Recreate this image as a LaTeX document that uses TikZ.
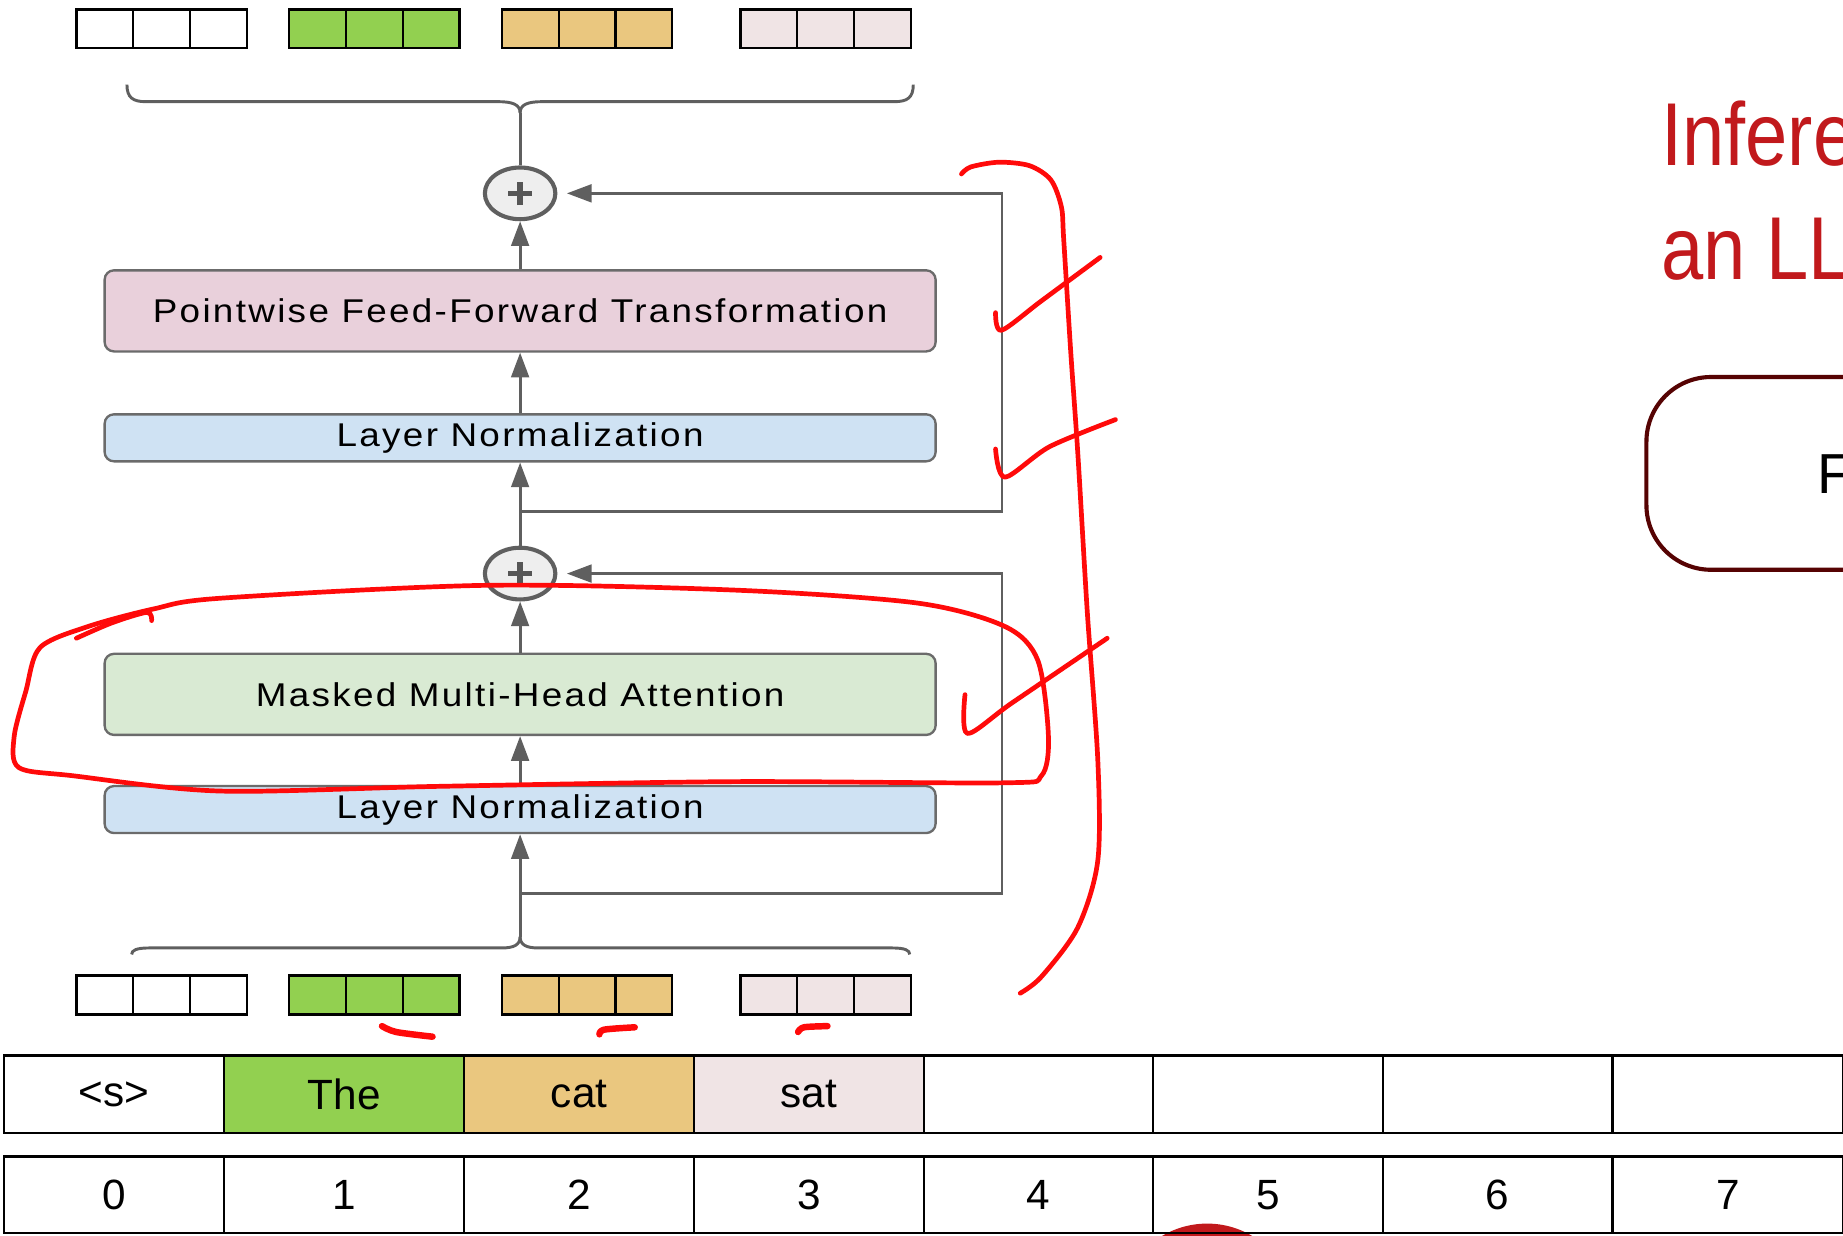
\documentclass[tikz,border=0pt]{standalone}
\usepackage{fontspec}
\setmainfont{Liberation Sans}
\newfontfamily\boxfont{Liberation Sans}[LetterSpace=7, FakeStretch=1.12]
\newfontfamily\titlefont{Liberation Sans}[FakeStretch=0.85]
\usepackage{tikz}
\usetikzlibrary{arrows.meta, positioning, shapes.geometric}
\definecolor{wiregray}{HTML}{5F5F5F}
\definecolor{edgegray}{HTML}{6B6B6B}
\definecolor{ffpink}{HTML}{E9D0DB}
\definecolor{lnblue}{HTML}{CFE2F3}
\definecolor{attngreen}{HTML}{D9EAD3}
\definecolor{addfill}{HTML}{EEEEEE}
\definecolor{tokgreen}{HTML}{92D050}
\definecolor{tokorange}{HTML}{EAC77F}
\definecolor{tokpink}{HTML}{F0E4E5}
\definecolor{scribred}{HTML}{FF0A0A}
\definecolor{titlered}{HTML}{C1191C}
\definecolor{framemaroon}{HTML}{560303}

\begin{document}
\begin{tikzpicture}[
    x=1pt,
    y=-1pt,
    layerbox/.style={
        draw=edgegray,
        line width=2pt,
        rounded corners=8pt,
        minimum width=707pt,
        inner sep=0pt,
        font=\boxfont\fontsize{28}{30}\selectfont
    },
    normbox/.style={
        layerbox,
        fill=lnblue,
        minimum height=40pt
    },
    ffbox/.style={
        layerbox,
        fill=ffpink,
        minimum height=69pt
    },
    attnbox/.style={
        layerbox,
        fill=attngreen,
        minimum height=69pt
    },
    addop/.style={
        ellipse,
        draw=wiregray,
        fill=addfill,
        line width=3.5pt,
        minimum width=60pt,
        minimum height=44pt,
        inner sep=0pt
    },
    plus/.style={
        draw=wiregray!90!black,
        line width=4.5pt
    },
    arr/.style={
        -{Triangle[length=21pt,width=15pt]},
        draw=wiregray,
        line width=2.5pt
    },
    link/.style={
        draw=wiregray,
        line width=2.5pt
    },
    vcell/.style={
        draw=black,
        line width=2pt,
        minimum width=48.33pt,
        minimum height=33pt,
        inner sep=0pt
    },
    tokcell/.style={
        draw=black,
        line width=2pt,
        minimum height=66pt,
        inner sep=0pt,
        font=\fontsize{36}{40}\selectfont
    },
    titletext/.style={
        text=titlered,
        inner sep=0pt,
        font=\titlefont\fontsize{76}{90}\selectfont
    },
    stagebox/.style={
        draw=framemaroon,
        line width=3.5pt,
        rounded corners=55pt,
        minimum width=420pt,
        minimum height=164pt
    },
    scribble/.style={
        draw=scribred,
        line width=4pt,
        line cap=round,
        line join=round
    }
]

\useasboundingbox (0,0) rectangle (1568,1051);
\clip (0,0) rectangle (1568,1051);

% -----------------------------------------------------
% Decoder block
% -----------------------------------------------------

\node[addop] (add1) at (442.5,164.5) {};
\node[ffbox] (ff) at (442.5,264.5) {Pointwise Feed-Forward Transformation};
\node[normbox] (ln1) at (442.5,372.5) {Layer Normalization};
\node[addop] (add2) at (442.5,488) {};
\node[attnbox] (attn) at (442.5,590.75) {Masked Multi-Head Attention};
\node[normbox] (ln2) at (442.5,688.75) {Layer Normalization};

\foreach \a in {add1, add2} {
    \draw[plus] ([xshift=-10pt]\a.center) -- ([xshift=10pt]\a.center);
    \draw[plus] ([yshift=-10pt]\a.center) -- ([yshift=10pt]\a.center);
}

\coordinate (topcusp) at (442.5,96);
\coordinate (botcusp) at (442.5,797);
\coordinate (res1) at (442.5,434.8);
\coordinate (res2) at (442.5,760.5);
\coordinate (skip1) at (852.5,164.5);
\coordinate (skip2) at (852.5,488);

\draw[arr] (botcusp) -- (ln2);
\draw[arr] (ln2) -- (attn);
\draw[arr] (attn) -- (add2);
\draw[arr] (add2) -- (ln1);
\draw[arr] (ln1) -- (ff);
\draw[arr] (ff) -- (add1);
\draw[link] (add1) -- (topcusp);

% Residual connections
\draw[arr] (res1) -| (skip1) -- ([xshift=8pt]add1.east);
\draw[arr] (res2) -| (skip2) -- ([xshift=8pt]add2.east);

% Braces
\draw[link] (108,72) .. controls (108,83) and (113,86.5) .. (124,86.5)
    -- (424,86.5) .. controls (436,86.5) and (442.5,89) .. (topcusp);
\draw[link] (777,72) .. controls (777,83) and (772,86.5) .. (761,86.5)
    -- (461,86.5) .. controls (449,86.5) and (442.5,89) .. (topcusp);
\draw[link] (112,812) .. controls (112,808.5) and (116,806.5) .. (127,806.5)
    -- (427,806.5) .. controls (437,806.5) and (442.5,804) .. (botcusp);
\draw[link] (774,812) .. controls (774,808.5) and (770,806.5) .. (759,806.5)
    -- (458,806.5) .. controls (448,806.5) and (442.5,804) .. (botcusp);

% -----------------------------------------------------
% Embedding vectors
% -----------------------------------------------------

\foreach \gx/\vcol [count=\g] in {137.5/white, 318.5/tokgreen, 499.5/tokorange, 702.5/tokpink} {
    \foreach \c in {1,2,3} {
        \node[vcell, fill=\vcol] (top-\g-\c) at ({\gx+(\c-2)*48.33},24.5) {};
        \node[vcell, fill=\vcol] (bot-\g-\c) at ({\gx+(\c-2)*48.33},846.5) {};
    }
}

% -----------------------------------------------------
% Tokens and positions
% -----------------------------------------------------

\fill[titlered] (1027,1116) circle (75);

\foreach \l/\r/\tcol/\tok [count=\k from 0] in {3.5/190.5/white/{<s>}, 190.5/395/tokgreen/The, 395/590.5/tokorange/cat, 590.5/786/tokpink/sat, 786/981/white/{}, 981/1176.5/white/{}, 1176.5/1372/white/{}, 1372/1568/white/{}} {
    \pgfmathsetmacro{\w}{\r-\l}
    \pgfmathsetmacro{\m}{(\l+\r)/2}
    \node[tokcell, fill=\tcol, minimum width=\w pt] (tok-\k) at (\m,931) {\tok};
    \node[tokcell, minimum width=\w pt, minimum height=65pt] (pos-\k) at (\m,1016.5) {\k};
}

% -----------------------------------------------------
% Slide text
% -----------------------------------------------------

\node[titletext, anchor=base west] (title-a) at (1413,141) {Inference};
\node[titletext, anchor=base west] (title-b) at (1413,238) {an LLM};
\node[stagebox, anchor=north west] (stage) at (1399,319) {};
\node[anchor=base west, inner sep=0pt, font=\fontsize{48}{52}\selectfont] (stage-text) at (1546,420) {F};

% -----------------------------------------------------
% Pen annotations
% -----------------------------------------------------

\draw[scribble] plot[smooth] coordinates {(818,148) (826,142) (850,138) (876,141) (894,153) (903,176) (905,204) (911,300) (917,386) (925,520) (934,647) (934,732) (917,789) (886,831) (868,845)};
\draw[scribble] plot[smooth] coordinates {(847,266) (852,281) (886,256) (936,219)};
\draw[scribble] plot[smooth] coordinates {(847,382) (855,406) (893,380) (949,357)};
\draw[scribble] plot[smooth] coordinates {(821,591) (823,624) (861,598) (942,543)};
\draw[scribble] plot[smooth] coordinates {(65,543) (95,530) (125,521) (129,528)};
\draw[scribble] plot[smooth cycle] coordinates {(187,509) (412,498) (624,502) (780,513) (855,533) (883,562) (892,627) (886,660) (855,666) (624,665) (374,669) (187,673) (62,660) (16,653) (12,627) (22,588) (34,551) (75,533) (131,518)};
\draw[scribble, line width=5.5pt] plot[smooth] coordinates {(325,873) (337,878) (368,882)};
\draw[scribble, line width=5.5pt] plot[smooth] coordinates {(510,880) (514,876) (540,874)};
\draw[scribble, line width=5.5pt] plot[smooth] coordinates {(679,878) (684,874) (704,873)};

\end{tikzpicture}
\end{document}
